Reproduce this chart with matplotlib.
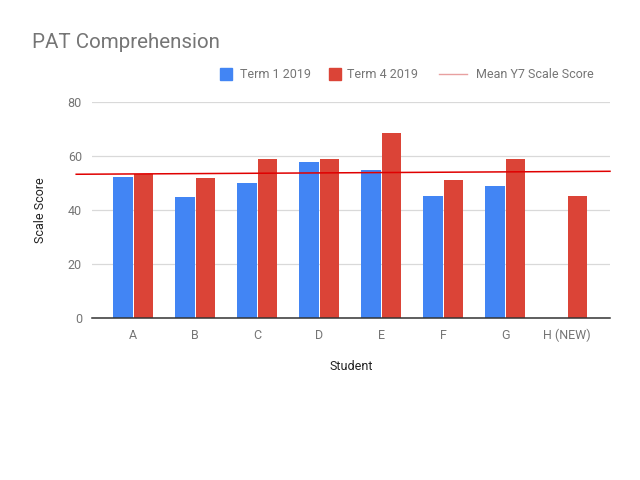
import numpy as np
import matplotlib
matplotlib.use('agg')
import matplotlib.pyplot as plt
from matplotlib.lines import Line2D
from matplotlib.patches import Rectangle

students = ['A', 'B', 'C', 'D', 'E', 'F', 'G', 'H (NEW)']
term1 = [52.2, 44.6, 50.0, 57.8, 54.9, 45.0, 48.8, np.nan]
term4 = [53.4, 51.7, 58.7, 58.7, 68.4, 51.2, 58.9, 45.0]
# mean line, slightly sloped, read at its two ends
mean_x = [-0.92, 7.69]
mean_y = [53.2, 54.3]

BLUE = '#4285F4'
RED = '#DB4437'
GREY = '#757575'

plt.rcParams['font.family'] = ['Roboto', 'DejaVu Sans']

W, H = 640, 480
fig = plt.figure(figsize=(6.4, 4.8), dpi=100)
ax = fig.add_axes([91.7 / W, 1 - 317.7 / H, (610 - 91.7) / W, (317.7 - 102) / H])

x = np.arange(len(students))
w = 0.313
ax.bar(x - w / 2 - 0.01, term1, w, color=BLUE, zorder=2)
ax.bar(x + w / 2 + 0.01, term4, w, color=RED, zorder=2)
ax.plot(mean_x, mean_y, color='#e00000', lw=1.1, zorder=3, clip_on=False)

ax.set_xlim(-0.67, 7.69)
ax.set_ylim(0, 80)
ax.set_yticks([0, 20, 40, 60, 80])
ax.set_xticks(x)
ax.set_xticklabels(students)
ax.grid(axis='y', color='#d9d9d9', lw=0.9, zorder=0)
for s in ['top', 'right', 'left']:
    ax.spines[s].set_visible(False)
ax.spines['bottom'].set_color('#333333')
ax.spines['bottom'].set_linewidth(1.1)
ax.spines['bottom'].set_zorder(4)
ax.tick_params(axis='both', length=0, labelsize=9, labelcolor=GREY, pad=8)
ax.tick_params(axis='y', pad=7)

ax.set_xlabel('Student', fontsize=9, color='#222222', labelpad=13)
ax.set_ylabel('Scale Score', fontsize=9, color='#222222', labelpad=15)

fig.text(32 / W, 1 - 42 / H, 'PAT Comprehension', fontsize=14.8, color=GREY, va='center')

# legend drawn by hand so the gaps match the reference
ly = 1 - 74 / H
fs = 9
fig.patches.append(Rectangle((220 / W, 1 - 80 / H), 12 / W, 12 / H,
                             transform=fig.transFigure, color=BLUE))
fig.text(240 / W, ly, 'Term 1 2019', fontsize=fs, color=GREY, va='center')
fig.patches.append(Rectangle((329 / W, 1 - 80 / H), 12 / W, 12 / H,
                             transform=fig.transFigure, color=RED))
fig.text(347 / W, ly, 'Term 4 2019', fontsize=fs, color=GREY, va='center')
fig.lines.append(Line2D([439 / W, 467 / W], [ly, ly], transform=fig.transFigure,
                        color='#e8a0a0', lw=1))
fig.text(476 / W, ly, 'Mean Y7 Scale Score', fontsize=fs, color=GREY, va='center')

fig.savefig('out.png', dpi=100)
